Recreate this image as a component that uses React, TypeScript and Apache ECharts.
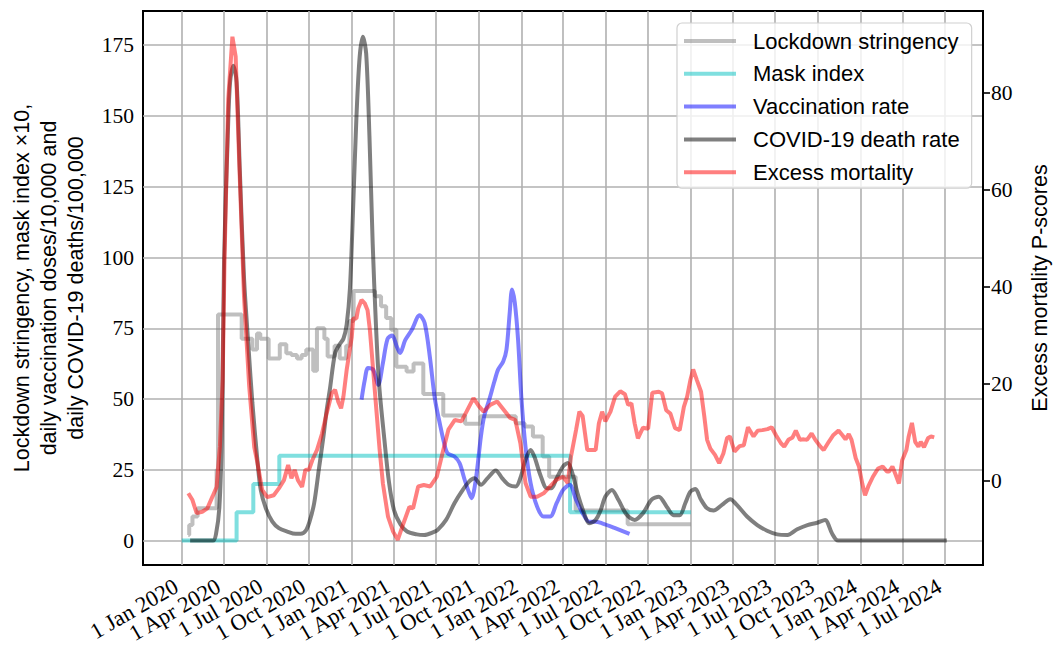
import React, { useEffect, useRef } from 'react';
import * as echarts from 'echarts';

// ---------- data ----------
const tickDates = [
  '2020-01-01', '2020-04-01', '2020-07-01', '2020-10-01',
  '2021-01-01', '2021-04-01', '2021-07-01', '2021-10-01',
  '2022-01-01', '2022-04-01', '2022-07-01', '2022-10-01',
  '2023-01-01', '2023-04-01', '2023-07-01', '2023-10-01',
  '2024-01-01', '2024-04-01', '2024-07-01',
];
const monthNames = ['Jan', 'Feb', 'Mar', 'Apr', 'May', 'Jun', 'Jul', 'Aug', 'Sep', 'Oct', 'Nov', 'Dec'];
const leftTicks = [0, 25, 50, 75, 100, 125, 150, 175];
const rightTicks = [0, 20, 40, 60, 80];

// step series: value holds from the date until the next date
const lockdownDates = [
  '2020-01-15', '2020-01-17', '2020-01-24', '2020-02-04', '2020-03-16', '2020-03-19',
  '2020-05-09', '2020-06-01', '2020-06-11', '2020-06-18', '2020-07-06', '2020-07-30',
  '2020-08-13', '2020-08-24', '2020-09-05', '2020-09-15', '2020-09-25', '2020-10-10',
  '2020-10-18', '2020-11-03', '2020-11-10', '2020-11-25', '2020-12-06', '2020-12-20',
  '2020-12-27', '2021-01-05', '2021-02-20', '2021-03-05', '2021-03-16', '2021-03-27',
  '2021-04-07', '2021-04-29', '2021-05-14', '2021-06-04', '2021-07-17', '2021-09-02',
  '2021-10-05', '2021-12-20', '2022-01-08', '2022-01-26', '2022-02-16', '2022-03-02',
  '2022-04-28', '2022-08-18', '2023-01-01',
];
const lockdownValues = [
  2, 5.5, 8.5, 11.4, 25, 79.9,
  71.3, 67.5, 73.2, 71.3, 64.3, 69.4,
  66.2, 65.6, 64.3, 65.6, 67.5, 60.0,
  75, 71.3, 65, 68.8, 64.3, 68.8,
  77.6, 88.2, 86.3, 82.8, 78.6, 74.5,
  61.4, 59.7, 62.6, 51.8, 44.2, 41.3,
  43.9, 41.5, 40.3, 36.8, 29.7, 22.6,
  10.6, 5.8, 5.8,
];

const maskDates = ['2020-01-01', '2020-04-28', '2020-06-03', '2020-07-29', '2022-04-16', '2023-01-01'];
const maskValues = [0, 10, 20, 30, 10, 10];

const vaccDates = [
  '2021-01-22', '2021-01-29', '2021-02-05', '2021-02-16', '2021-02-27', '2021-03-09',
  '2021-03-19', '2021-03-29', '2021-04-08', '2021-04-15', '2021-04-26', '2021-05-10',
  '2021-05-27', '2021-06-07', '2021-06-18', '2021-06-29', '2021-07-10', '2021-07-18',
  '2021-07-26', '2021-08-10', '2021-08-21', '2021-09-01', '2021-09-11', '2021-09-16',
  '2021-09-25', '2021-10-06', '2021-10-13', '2021-10-24', '2021-11-04', '2021-11-12',
  '2021-11-23', '2021-11-30', '2021-12-07', '2021-12-12', '2021-12-18', '2021-12-25',
  '2022-01-01', '2022-01-10', '2022-01-21', '2022-02-04', '2022-02-18', '2022-03-04',
  '2022-03-18', '2022-04-01', '2022-04-15', '2022-04-29', '2022-05-13', '2022-05-27',
  '2022-06-10', '2022-06-24', '2022-07-22', '2022-08-22',
];
const vaccValues = [
  49.8, 56.8, 61, 60.4, 55, 62.7,
  71.3, 72.5, 68.5, 66.3, 70.8, 74.4,
  79.6, 76.8, 65, 50, 41, 35,
  30.9, 29.7, 27.4, 21.5, 16.7, 15,
  21.5, 36.8, 43.9, 49.8, 56.2, 60.4,
  63.3, 67.4, 80.4, 88.7, 84, 71,
  50.9, 33.2, 20.3, 12, 8.5, 8.5,
  13.2, 17.9, 19.7, 14.4, 9.7, 6.7,
  6.7, 6.1, 4.4, 2.4,
];

const deathDates = [
  '2020-01-19', '2020-03-08', '2020-03-15', '2020-03-22', '2020-03-27', '2020-04-01',
  '2020-04-09', '2020-04-14', '2020-04-21', '2020-04-28', '2020-05-05', '2020-05-14',
  '2020-05-24', '2020-06-01', '2020-06-12', '2020-06-19', '2020-06-30', '2020-07-14',
  '2020-07-28', '2020-08-15', '2020-09-02', '2020-09-13', '2020-09-24', '2020-10-02',
  '2020-10-12', '2020-10-22', '2020-11-01', '2020-11-08', '2020-11-15', '2020-11-26',
  '2020-12-06', '2020-12-14', '2020-12-21', '2020-12-28', '2021-01-04', '2021-01-11',
  '2021-01-18', '2021-01-25', '2021-02-01', '2021-02-08', '2021-02-15', '2021-02-22',
  '2021-03-01', '2021-03-12', '2021-03-22', '2021-04-02', '2021-04-16', '2021-04-30',
  '2021-05-21', '2021-06-06', '2021-06-26', '2021-07-05', '2021-07-23', '2021-08-10',
  '2021-08-28', '2021-09-11', '2021-09-22', '2021-10-06', '2021-10-20', '2021-11-07',
  '2021-11-21', '2021-12-05', '2021-12-20', '2021-12-31', '2022-01-10', '2022-01-21',
  '2022-01-29', '2022-02-11', '2022-02-25', '2022-03-07', '2022-03-18', '2022-04-01',
  '2022-04-11', '2022-04-22', '2022-05-02', '2022-05-16', '2022-05-27', '2022-06-10',
  '2022-06-21', '2022-07-01', '2022-07-15', '2022-07-29', '2022-08-16', '2022-09-02',
  '2022-09-20', '2022-10-08', '2022-10-24', '2022-11-10', '2022-11-25', '2022-12-08',
  '2022-12-20', '2022-12-31', '2023-01-11', '2023-01-22', '2023-02-05', '2023-02-19',
  '2023-03-09', '2023-03-27', '2023-04-10', '2023-05-02', '2023-05-24', '2023-06-14',
  '2023-07-06', '2023-07-28', '2023-08-18', '2023-09-09', '2023-09-30', '2023-10-17',
  '2023-11-01', '2023-11-14', '2024-07-05',
];
const deathValues = [
  0, 0, 2.6, 12, 36, 99,
  143, 162, 167.8, 162, 130.6, 92.7,
  67.5, 48.6, 28, 17.9, 11.4, 6.7,
  4.4, 3.2, 2.4, 2.4, 3.5, 6.7,
  13.2, 25, 36.8, 46.2, 53.6, 66.2,
  69.4, 71.3, 76.3, 89, 118, 149.5,
  171, 178, 172, 143, 105, 76.3,
  54.9, 36, 20.8, 10.7, 5.7, 3.2,
  2.2, 2, 3, 3.8, 7.3, 13.2,
  17.9, 20.9, 22, 19.7, 22, 24.8,
  22, 19.7, 19.1, 22.6, 28.5, 32,
  29.7, 23.2, 18.5, 18.5, 22, 26.2,
  27.4, 23.2, 16.7, 9.7, 6.1, 7.3,
  10.8, 15.6, 17.9, 14.4, 9.1, 7.3,
  9.7, 14.4, 15.5, 12, 9, 9,
  13.2, 17.3, 18.2, 14.7, 11.4, 10.6,
  12.6, 14.6, 12.6, 8.5, 5.5, 3.5,
  2.2, 2, 4, 5.5, 6.3, 7.3,
  2.5, 0, 0,
];

const excessDates = [
  '2020-01-15', '2020-01-24', '2020-02-02', '2020-02-14', '2020-02-25', '2020-03-07',
  '2020-03-16', '2020-03-23', '2020-03-29', '2020-04-02', '2020-04-10', '2020-04-19',
  '2020-04-26', '2020-05-03', '2020-05-14', '2020-05-25', '2020-06-05', '2020-06-12',
  '2020-06-22', '2020-07-03', '2020-07-17', '2020-07-28', '2020-08-08', '2020-08-17',
  '2020-08-24', '2020-08-31', '2020-09-07', '2020-09-16', '2020-09-23', '2020-10-01',
  '2020-10-08', '2020-10-18', '2020-10-29', '2020-11-08', '2020-11-19', '2020-11-26',
  '2020-12-03', '2020-12-09', '2020-12-14', '2020-12-21', '2021-01-01', '2021-01-04',
  '2021-01-11', '2021-01-15', '2021-01-22', '2021-01-29', '2021-02-04', '2021-02-09',
  '2021-02-16', '2021-02-23', '2021-03-02', '2021-03-09', '2021-03-20', '2021-03-31',
  '2021-04-10', '2021-04-20', '2021-05-05', '2021-05-13', '2021-05-24', '2021-06-05',
  '2021-06-19', '2021-07-03', '2021-07-17', '2021-07-28', '2021-08-11', '2021-08-25',
  '2021-09-05', '2021-09-20', '2021-10-02', '2021-10-12', '2021-10-26', '2021-11-10',
  '2021-11-24', '2021-12-08', '2021-12-19', '2021-12-30', '2022-01-10', '2022-01-21',
  '2022-02-04', '2022-02-18', '2022-03-04', '2022-03-18', '2022-04-01', '2022-04-11',
  '2022-04-18', '2022-04-29', '2022-05-06', '2022-05-13', '2022-05-23', '2022-06-03',
  '2022-06-10', '2022-06-17', '2022-06-24', '2022-07-01', '2022-07-12', '2022-07-22',
  '2022-08-02', '2022-08-12', '2022-08-19', '2022-08-26', '2022-09-02', '2022-09-09',
  '2022-09-20', '2022-10-01', '2022-10-10', '2022-10-24', '2022-10-31', '2022-11-09',
  '2022-11-18', '2022-11-28', '2022-12-08', '2022-12-17', '2022-12-24', '2022-12-31',
  '2023-01-06', '2023-01-14', '2023-01-23', '2023-01-30', '2023-02-05', '2023-02-12',
  '2023-02-22', '2023-03-03', '2023-03-12', '2023-03-20', '2023-03-26', '2023-04-05',
  '2023-04-16', '2023-04-25', '2023-05-04', '2023-05-16', '2023-05-25', '2023-06-04',
  '2023-06-15', '2023-06-24', '2023-07-03', '2023-07-14', '2023-07-21', '2023-07-30',
  '2023-08-08', '2023-08-15', '2023-08-24', '2023-09-01', '2023-09-08', '2023-09-18',
  '2023-09-26', '2023-10-07', '2023-10-14', '2023-10-25', '2023-11-04', '2023-11-15',
  '2023-11-23', '2023-11-30', '2023-12-07', '2023-12-13', '2023-12-22', '2023-12-29',
  '2024-01-05', '2024-01-11', '2024-01-18', '2024-01-28', '2024-02-08', '2024-02-18',
  '2024-02-27', '2024-03-03', '2024-03-10', '2024-03-17', '2024-03-24', '2024-03-31',
  '2024-04-09', '2024-04-14', '2024-04-21', '2024-04-28', '2024-05-05', '2024-05-10',
  '2024-05-17', '2024-05-26', '2024-06-01', '2024-06-08',
];
const excessValues = [
  -2.5, -3.9, -6.6, -6.3, -5.6, -3.2,
  -1.2, 7.1, 20.8, 45.5, 78.6, 91.5,
  87.4, 67.5, 38, 19.7, 7, 3.7,
  -1.8, -3.3, -2.9, -1.5, 0.2, 3.3,
  0.6, 2.3, 0.2, -1.2, 2.3, 2.4,
  4.3, 6.4, 9.8, 14, 18.1, 18.8,
  16.3, 15, 17.4, 22.9, 29.7, 33.5,
  33.5, 35.6, 37.3, 36.6, 35.2, 31.1,
  22.9, 14.6, 6.4, -0.5, -7.3, -10.4,
  -12.1, -9.3, -5.3, -5.6, -1.1, -0.8,
  -1.1, 0.9, 6.4, 10.6, 12.6, 12.3,
  14.3, 17.1, 15.4, 14.3, 15.7, 16.4,
  14.7, 13, 12.6, 7.8, -0.4, -3.2,
  -3.2, -2.5, -1.1, 0.3, 0.9, -0.4,
  5.1, 10.6, 14.3, 13.4, 6.4, 6.4,
  6.4, 11.9, 14.3, 12.3, 14.3, 17.4,
  18.5, 17.9, 15.7, 16, 11.9, 8.8,
  11, 10.8, 18.2, 18.4, 18.1, 14.6,
  13.9, 10.9, 10.5, 15.3, 17.4, 20.8,
  23, 20.8, 18.4, 13.3, 8.5, 6.7,
  5.4, 3.7, 5.7, 8.9, 9.2, 6.1,
  7.2, 7.4, 11.1, 9.2, 10.4, 10.5,
  10.7, 11.1, 9.5, 7.8, 7.1, 8.5,
  9, 10.4, 8.5, 8.6, 8.5, 9.8,
  8.5, 7.1, 6.4, 8.1, 9.5, 10.4,
  9.5, 8.6, 9.7, 8.5, 4.7, 3,
  -0.5, -2.9, -1.1, 0.9, 2.6, 3,
  2, 2, 3, 1.3, -0.5, 4.3,
  6.4, 9.2, 12, 8.1, 7.1, 8.1,
  7, 8.9, 9.2, 9,
];

// ---------- helpers ----------
function ts(d: string): number {
  const [y, m, dd] = d.split('-').map(Number);
  return Date.UTC(y, m - 1, dd);
}
function pairs(dates: string[], values: number[]) {
  return dates.map((d, i) => [ts(d), values[i]]);
}
function dateLabel(v: number): string {
  const d = new Date(v);
  return `1 ${monthNames[d.getUTCMonth()]} ${d.getUTCFullYear()}`;
}
const DAY = 86400000;
const SERIF = '"Liberation Serif", "DejaVu Serif", serif';
const SANS = '"Liberation Sans", "DejaVu Sans", sans-serif';

export default function App() {
  const ref = useRef<HTMLDivElement>(null);
  useEffect(() => {
    if (!ref.current) return;
    const chart = echarts.init(ref.current, null, { renderer: 'svg' });
    const xMin = ts('2020-01-01') - 83.5 * DAY;
    const xMax = ts('2024-07-01') + 82 * DAY;
    const lw = 4;
    const gridBottom = 81;
    const H = 646;
    chart.setOption({
      animation: false,
      backgroundColor: '#ffffff',
      grid: {
        left: 140, right: 74, top: 11, bottom: gridBottom,
        show: true, borderColor: '#000', borderWidth: 2, backgroundColor: 'transparent',
      },
      legend: {
        orient: 'vertical',
        left: 677, top: 23,
        icon: 'rect', itemWidth: 52, itemHeight: 4, itemGap: 6.8,
        padding: [5, 12, 3, 7],
        backgroundColor: 'rgba(255,255,255,0.8)',
        borderColor: '#d0d0d0', borderWidth: 1.2, borderRadius: 5,
        textStyle: { fontFamily: SANS, fontSize: 22, color: '#000', lineHeight: 26, padding: [0, 0, 0, 12] },
        data: ['Lockdown stringency', 'Mask index', 'Vaccination rate', 'COVID-19 death rate', 'Excess mortality'],
      },
      xAxis: {
        type: 'value',
        min: xMin, max: xMax,
        axisLine: { show: false },
        axisTick: { show: false, customValues: tickDates.map(ts) },
        splitLine: { show: true, lineStyle: { color: '#b0b0b0', width: 1.6 } },
        axisLabel: { show: false, customValues: tickDates.map(ts) },
      },
      yAxis: [
        {
          type: 'value', position: 'left',
          min: -8.62, max: 187.1,
          axisLine: { show: false },
          axisTick: { show: false, customValues: leftTicks },
          splitLine: { show: true, lineStyle: { color: '#b0b0b0', width: 1.6 } },
          axisLabel: { customValues: leftTicks, margin: 9, fontFamily: SERIF, fontSize: 21.5, color: '#000' },
          name: 'Lockdown stringency, mask index \u00d710,\ndaily vaccination doses/10,000 and\ndaily COVID-19 deaths/100,000',
          nameLocation: 'middle', nameGap: 54,
          nameTextStyle: { fontFamily: SANS, fontSize: 21.5, color: '#000', lineHeight: 27, align: 'center' },
        },
        {
          type: 'value', position: 'right',
          min: -17.27, max: 96.8,
          axisLine: { show: true, lineStyle: { color: '#000', width: 2 } },
          axisTick: { show: true, customValues: rightTicks, length: 7, lineStyle: { color: '#000', width: 1.6 } },
          splitLine: { show: false },
          axisLabel: { customValues: rightTicks, margin: 8, fontFamily: SERIF, fontSize: 21.5, color: '#000' },
          name: 'Excess mortality P-scores',
          nameLocation: 'middle', nameGap: 46,
          nameTextStyle: { fontFamily: SANS, fontSize: 21.5, color: '#000' },
        },
      ],
      series: [
        {
          name: 'Lockdown stringency', type: 'line', step: 'end', yAxisIndex: 0,
          data: pairs(lockdownDates, lockdownValues), showSymbol: false, symbol: 'none',
          color: 'rgba(128,128,128,0.5)', lineStyle: { width: lw, color: 'rgba(128,128,128,0.5)' },
        },
        {
          name: 'Mask index', type: 'line', step: 'end', yAxisIndex: 0,
          data: pairs(maskDates, maskValues), showSymbol: false, symbol: 'none',
          color: 'rgba(0,191,191,0.5)', lineStyle: { width: lw, color: 'rgba(0,191,191,0.5)' },
        },
        {
          name: 'Vaccination rate', type: 'line', yAxisIndex: 0, smooth: 0.3,
          data: pairs(vaccDates, vaccValues), showSymbol: false, symbol: 'none',
          color: 'rgba(0,0,255,0.5)', lineStyle: { width: lw, color: 'rgba(0,0,255,0.5)' },
        },
        {
          name: 'COVID-19 death rate', type: 'line', yAxisIndex: 0, smooth: 0.3,
          data: pairs(deathDates, deathValues), showSymbol: false, symbol: 'none',
          color: 'rgba(0,0,0,0.5)', lineStyle: { width: lw, color: 'rgba(0,0,0,0.5)' },
        },
        {
          name: 'Excess mortality', type: 'line', yAxisIndex: 1,
          data: pairs(excessDates, excessValues), showSymbol: false, symbol: 'none',
          color: 'rgba(255,0,0,0.5)', lineStyle: { width: lw, color: 'rgba(255,0,0,0.5)' },
        },
      ],
    });

    // rotated date labels placed at the axis' own tick positions
    const axisY = H - gridBottom;
    const labels = tickDates.map((d) => {
      const v = ts(d);
      const px = chart.convertToPixel({ xAxisIndex: 0 }, v) as number;
      return {
        type: 'text',
        x: px - 5.5,
        y: axisY + 19.5,
        rotation: Math.PI / 6,
        silent: true,
        style: {
          text: dateLabel(v),
          align: 'right',
          verticalAlign: 'middle',
          fontFamily: SERIF,
          fontSize: 22.5,
          fill: '#000',
        },
      };
    });
    chart.setOption({ graphic: { elements: labels } });

    return () => chart.dispose();
  }, []);
  return (
    <div
      ref={ref}
      style={{ position: 'absolute', left: 0, top: 0, width: 1059, height: 646 }}
    />
  );
}
